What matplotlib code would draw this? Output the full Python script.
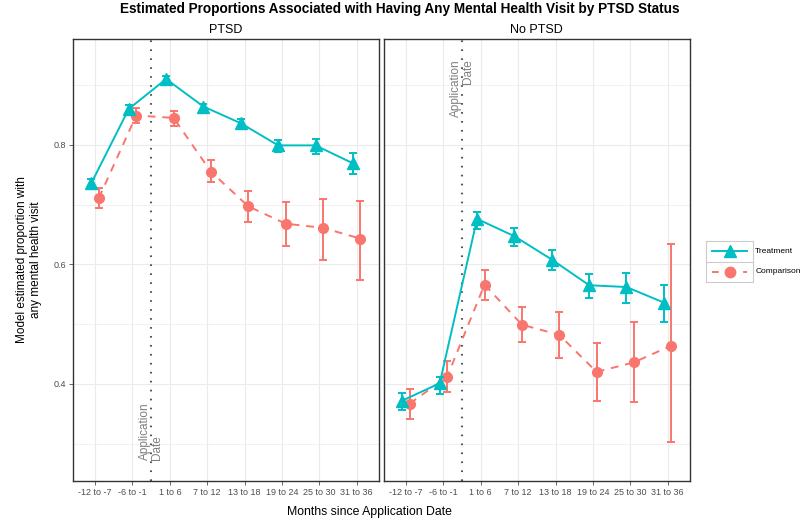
import matplotlib
matplotlib.use('Agg')
import matplotlib.pyplot as plt
import numpy as np

plt.rcParams['font.family'] = ['Liberation Sans', 'DejaVu Sans']

months = ['-12 to -7', '-6 to -1', '1 to 6', '7 to 12', '13 to 18', '19 to 24', '25 to 30', '31 to 36']

# PTSD panel
ptsd_trt = [0.736, 0.860, 0.910, 0.864, 0.836, 0.799, 0.799, 0.769]
ptsd_trt_lo = [0.730, 0.854, 0.905, 0.859, 0.829, 0.788, 0.785, 0.751]
ptsd_trt_hi = [0.742, 0.866, 0.915, 0.869, 0.843, 0.808, 0.810, 0.787]
ptsd_cmp = [0.711, 0.849, 0.845, 0.755, 0.697, 0.668, 0.661, 0.643]
ptsd_cmp_lo = [0.694, 0.836, 0.832, 0.737, 0.671, 0.630, 0.608, 0.574]
ptsd_cmp_hi = [0.728, 0.861, 0.857, 0.774, 0.723, 0.704, 0.710, 0.706]

# No PTSD panel
noptsd_trt = [0.372, 0.401, 0.676, 0.647, 0.608, 0.565, 0.562, 0.536]
noptsd_trt_lo = [0.357, 0.383, 0.659, 0.631, 0.590, 0.543, 0.536, 0.504]
noptsd_trt_hi = [0.384, 0.412, 0.687, 0.661, 0.624, 0.584, 0.586, 0.565]
noptsd_cmp = [0.367, 0.412, 0.566, 0.499, 0.482, 0.420, 0.436, 0.464]
noptsd_cmp_lo = [0.341, 0.387, 0.541, 0.470, 0.444, 0.371, 0.369, 0.302]
noptsd_cmp_hi = [0.392, 0.438, 0.590, 0.528, 0.520, 0.469, 0.504, 0.634]

panels = ['PTSD', 'No PTSD']
TEAL = '#00BFC4'
SALMON = '#F8766D'
GRID = '#EBEBEB'

fig = plt.figure(figsize=(8, 5.2), dpi=100)
ax1 = fig.add_axes([0.0909, 0.0756, 0.3829, 0.8494])
ax2 = fig.add_axes([0.4796, 0.0756, 0.3829, 0.8494], sharey=ax1)

x = np.arange(1, len(months) + 1)
dodge = 0.1

def draw(ax, trt, tlo, thi, cmp_, clo, chi, title):
    trt = np.array(trt); cmp_ = np.array(cmp_)
    ax.errorbar(x - dodge, trt, yerr=[trt - np.array(tlo), np.array(thi) - trt],
                color=TEAL, lw=1.4, marker='^', ms=8, capsize=3, capthick=1.4,
                elinewidth=1.4, zorder=4)
    ax.errorbar(x + dodge, cmp_, yerr=[cmp_ - np.array(clo), np.array(chi) - cmp_],
                color=SALMON, lw=1.4, ls=(0, (4, 3.5)), marker='o', ms=7, capsize=3,
                capthick=1.4, elinewidth=1.4, zorder=3)
    ax.axvline(2.5, color='#555555', lw=1.5, ls=(0, (0.8, 3.5)), zorder=2)
    ax.set_xlim(0.4, 8.6)
    ax.set_ylim(0.238, 0.977)
    ax.set_xticks(x)
    ax.set_xticklabels(months)
    ax.set_yticks([0.4, 0.6, 0.8])
    ax.set_yticks([0.3, 0.5, 0.7, 0.9], minor=True)
    ax.yaxis.grid(True, which='major', color=GRID, lw=0.8)
    ax.yaxis.grid(True, which='minor', color=GRID, lw=0.5)
    ax.xaxis.grid(True, which='major', color=GRID, lw=0.8)
    ax.set_axisbelow(True)
    ax.tick_params(axis='both', which='major', labelsize=6.5, colors='#4D4D4D',
                   length=3, width=0.6, pad=2)
    ax.tick_params(axis='y', which='minor', length=0)
    for s in ax.spines.values():
        s.set_color('#333333'); s.set_linewidth(1.0)
    ax.set_title(title, fontsize=9, pad=4)

draw(ax1, ptsd_trt, ptsd_trt_lo, ptsd_trt_hi, ptsd_cmp, ptsd_cmp_lo, ptsd_cmp_hi, panels[0])
draw(ax2, noptsd_trt, noptsd_trt_lo, noptsd_trt_hi, noptsd_cmp, noptsd_cmp_lo, noptsd_cmp_hi, panels[1])
ax2.tick_params(axis='y', labelleft=False, length=0)

ax1.text(2.5, 0.272, 'Application\nDate', rotation=90, ha='center', va='bottom',
         multialignment='left', fontsize=8.5, color='#7F7F7F', linespacing=0.95)
ax2.text(2.5, 0.943, 'Application\nDate', rotation=90, ha='center', va='top',
         multialignment='right', fontsize=8.5, color='#7F7F7F', linespacing=0.95)

ax1.set_ylabel('Model estimated proportion with\nany mental health visit', fontsize=8.5, labelpad=8)
fig.text(0.462, 0.004, 'Months since Application Date', ha='center', va='bottom', fontsize=8.8)
fig.text(0.5, 0.996, 'Estimated Proportions Associated with Having Any Mental Health Visit by PTSD Status',
         ha='center', va='top', fontsize=9.8, weight='bold')

# legend drawn as ggplot-style key boxes
leg = fig.add_axes([706/800, 1 - 282/520, 47/800, 41/520])
leg.set_xlim(0, 1); leg.set_ylim(0, 2)
leg.set_xticks([]); leg.set_yticks([])
for s in leg.spines.values():
    s.set_color('#CCCCCC'); s.set_linewidth(0.8)
leg.axhline(1, color='#CCCCCC', lw=0.8)
leg.plot([0.12, 0.88], [1.5, 1.5], color=TEAL, lw=1.4)
leg.plot([0.5], [1.5], color=TEAL, marker='^', ms=8.5)
leg.plot([0.12, 0.88], [0.5, 0.5], color=SALMON, lw=1.4, ls=(0, (3.5, 4.5)))
leg.plot([0.5], [0.5], color=SALMON, marker='o', ms=7.5)
leg.text(1.05, 1.5, 'Treatment', transform=leg.transData, va='center', fontsize=6, clip_on=False)
leg.text(1.05, 0.5, 'Comparison', transform=leg.transData, va='center', fontsize=6, clip_on=False)

fig.savefig('out.png', dpi=100)
